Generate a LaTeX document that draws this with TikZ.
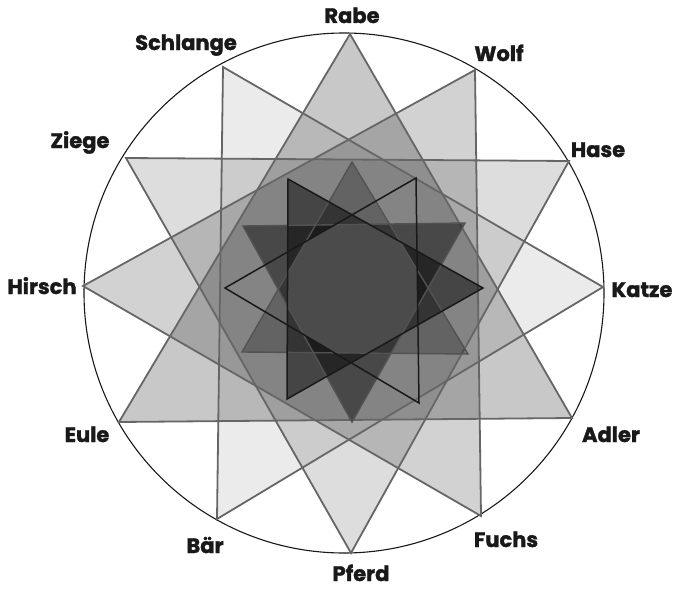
\documentclass[tikz,border=0pt]{standalone}
\usepackage{fontspec}
\newfontfamily\labfont{Poppins}[BoldFeatures={FakeBold=1.6}]
\tikzset{
  outeredge/.style={draw=black!60, line width=1.8pt, line join=miter},
  innergray/.style={draw=black!68, line width=1.4pt, line join=miter},
  innerdark/.style={draw=black!90, line width=1.5pt, line join=miter},
  lab/.style={anchor=base, inner sep=0pt, font=\labfont\bfseries\fontsize{21}{21}\selectfont, text=black!90}
}
\begin{document}
\begin{tikzpicture}[x=1pt,y=-1pt]
\useasboundingbox (0,0) rectangle (678,589);
% outer vertices
\coordinate (Rabe) at (350,34);
\coordinate (Wolf) at (475,70);
\coordinate (Hase) at (569,161);
\coordinate (Katze) at (603,287);
\coordinate (Adler) at (572,418);
\coordinate (Fuchs) at (481,516);
\coordinate (Pferd) at (351,553);
\coordinate (Baer) at (217,519);
\coordinate (Eule) at (119,422);
\coordinate (Hirsch) at (83,286);
\coordinate (Ziege) at (126,158);
\coordinate (Schlange) at (223,67);
% inner vertices
\coordinate (uT) at (352,162);
\coordinate (uR) at (468,354);
\coordinate (uL) at (242,352);
\coordinate (dL) at (243,226);
\coordinate (dR) at (465,223);
\coordinate (dB) at (352,422);
\coordinate (rT) at (288,179);
\coordinate (rB) at (287,399);
\coordinate (rR) at (483,288);
\coordinate (lL) at (225,288);
\coordinate (lT) at (416,178);
\coordinate (lB) at (419,403);
% circle
\coordinate (C) at (344,293);
\draw[black!90, line width=1.1pt] (C) circle [radius=260];
% outer fills
\fill[black, fill opacity=0.216] (Rabe) -- (Adler) -- (Eule) -- cycle;
\fill[black, fill opacity=0.176] (Wolf) -- (Fuchs) -- (Hirsch) -- cycle;
\fill[black, fill opacity=0.133] (Hase) -- (Pferd) -- (Ziege) -- cycle;
\fill[black, fill opacity=0.078] (Schlange) -- (Baer) -- (Katze) -- cycle;
% outer edges
\draw[outeredge] (Rabe) -- (Adler) -- (Eule) -- cycle;
\draw[outeredge] (Wolf) -- (Fuchs) -- (Hirsch) -- cycle;
\draw[outeredge] (Hase) -- (Pferd) -- (Ziege) -- cycle;
\draw[outeredge] (Schlange) -- (Baer) -- (Katze) -- cycle;
% inner fills
\fill[black, fill opacity=0.25] (uT) -- (uR) -- (uL) -- cycle;
\fill[black, fill opacity=0.45] (dL) -- (dR) -- (dB) -- cycle;
\fill[black, fill opacity=0.48] (rT) -- (rR) -- (rB) -- cycle;
% centre
\begin{scope}
\clip (uT) -- (uR) -- (uL) -- cycle;
\clip (dL) -- (dR) -- (dB) -- cycle;
\clip (rT) -- (rR) -- (rB) -- cycle;
\clip (lL) -- (lT) -- (lB) -- cycle;
\fill[black!70.5] (200,150) rectangle (500,450);
\end{scope}
% inner edges
\draw[innergray] (uT) -- (uR) -- (uL) -- cycle;
\draw[innergray] (dL) -- (dR) -- (dB) -- cycle;
\draw[innerdark] (rT) -- (rR) -- (rB) -- cycle;
\draw[innerdark] (lL) -- (lT) -- (lB) -- cycle;
% labels
\node[lab] (lRabe) at (352,23) {Rabe};
\node[lab] (lWolf) at (499,61) {Wolf};
\node[lab] (lHase) at (598,157) {Hase};
\node[lab] (lKatze) at (642,297) {Katze};
\node[lab] (lAdler) at (611,442) {Adler};
\node[lab] (lFuchs) at (506,547) {Fuchs};
\node[lab] (lPferd) at (361,581) {Pferd};
\node[lab] (lBaer) at (205,553) {Bär};
\node[lab] (lEule) at (87,442) {Eule};
\node[lab] (lHirsch) at (42,294) {Hirsch};
\node[lab] (lZiege) at (80,148) {Ziege};
\node[lab] (lSchlange) at (186,50) {Schlange};
\end{tikzpicture}
\end{document}
